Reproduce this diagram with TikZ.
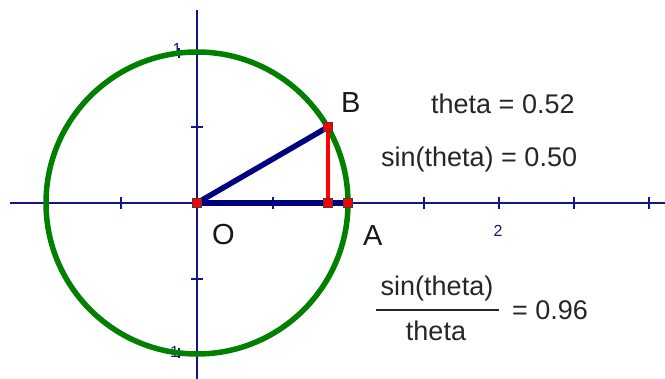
\documentclass[tikz,border=0pt]{standalone}
\usepackage{fontspec}
\setmainfont{Liberation Sans}
\begin{document}
\begin{tikzpicture}[x=1pt,y=-1pt,
  axis/.style={draw=axisblue,line width=1.6pt},
  tick/.style={draw=axisblue,line width=1.6pt},
  ticklab/.style={text=axisblue,font=\fontsize{16}{16}\selectfont,inner sep=0pt},
  txt/.style={font=\fontsize{27}{27}\selectfont,inner sep=0pt,text=black!85},
  ptlab/.style={font=\fontsize{29}{29}\selectfont,inner sep=0pt,text=black!90},
  pt/.style={draw=black!75,fill=red,line width=0.8pt,minimum size=8.5pt,inner sep=0pt,rectangle}]
\definecolor{axisblue}{RGB}{20,20,140}
\definecolor{navy}{RGB}{0,0,128}
\definecolor{circgreen}{RGB}{0,128,0}
\useasboundingbox (0,0) rectangle (665,379);
\fill[white] (0,0) rectangle (665,379);
% axes
\coordinate (xl) at (10,203);
\coordinate (xr) at (665,203);
\coordinate (yt) at (197,10);
\coordinate (yb) at (197,379);
\draw[axis] (xl) -- (xr);
\draw[axis] (yt) -- (yb);
\foreach \x in {121,273,424,499,574,649} \draw[tick] (\x,197) -- (\x,209);
\foreach \y in {127,279} \draw[tick] (191,\y) -- (203,\y);
\draw[tick] (179,48) -- (179,58);
\draw[tick] (179,348) -- (179,358);
\node[ticklab,anchor=base] (l2) at (498,237) {2};
\node[ticklab,anchor=base] (l1) at (177,55) {1};
\node[ticklab,anchor=base] (lm1) at (172,358) {-1};
% circle
\draw[circgreen,line width=5.5pt] (197,203) circle[radius=151];
% points
\coordinate (O) at (197,203);
\coordinate (B) at (328,127);
\coordinate (F) at (328,203);
\coordinate (A) at (348,203);
\draw[navy,line width=5.5pt] (O) -- (B);
\draw[navy,line width=5.5pt] (O) -- (A);
\draw[red,line width=4.5pt] (B) -- (F);
\node[pt] (pO) at (O) {};
\node[pt] (pB) at (B) {};
\node[pt] (pF) at (F) {};
\node[pt] (pA) at (A) {};
% labels
\node[ptlab,anchor=base west] (labB) at (341,113) {B};
\node[ptlab,anchor=base west] (labO) at (212,245) {O};
\node[ptlab,anchor=base west] (labA) at (363,246) {A};
\node[txt,anchor=base west] (th) at (431,114) {theta = 0.52};
\node[txt,anchor=base west] (sn) at (381,167) {sin(theta) = 0.50};
\node[txt,anchor=base] (num) at (437,296) {sin(theta)};
\node[txt,anchor=base] (den) at (436,341) {theta};
\draw[black!85,line width=1.3pt] (376,310) -- (499,310);
\node[txt,anchor=base west] (res) at (512,320) {= 0.96};
\end{tikzpicture}
\end{document}
